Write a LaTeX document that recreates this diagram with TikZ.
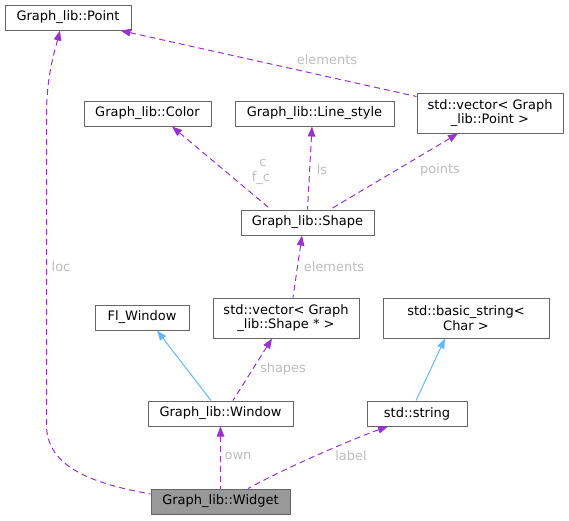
\documentclass[tikz,border=0pt]{standalone}
\usepackage{fontspec}
\setmainfont{DejaVu Sans}
\usetikzlibrary{arrows.meta}
\definecolor{boxline}{HTML}{666666}
\definecolor{purp}{HTML}{9A32CD}
\definecolor{blu}{HTML}{63B8FF}
\definecolor{lbl}{HTML}{BDBDBD}
\definecolor{fillw}{HTML}{999999}
\tikzset{
  cls/.style={draw=boxline, line width=1pt, inner sep=0pt, align=center, font=\fontsize{13}{14.5}\selectfont},
  uses/.style={draw=purp, line width=1pt, dash pattern=on 6pt off 4pt, {Triangle[length=10pt,width=7.5pt,fill=purp]}-},
  inh/.style={draw=blu, line width=1pt, {Triangle[length=10pt,width=7.5pt,fill=blu]}-},
  elab/.style={text=lbl, inner sep=0pt, font=\fontsize{13}{14.5}\selectfont},
}
\begin{document}
\begin{tikzpicture}[x=1pt,y=-1pt]
\useasboundingbox (0,0) rectangle (569,520);
\node[cls, minimum width=126pt, minimum height=25pt] (point) at (68,17.5) {Graph\_lib::Point};
\node[cls, minimum width=127pt, minimum height=25pt] (color) at (147.5,113.5) {Graph\_lib::Color};
\node[cls, minimum width=159pt, minimum height=25pt] (ls) at (314.5,113.5) {Graph\_lib::Line\_style};
\node[cls, minimum width=146pt, minimum height=40pt] (vecP) at (490,113) {std::vector< Graph\\\_lib::Point >};
\node[cls, minimum width=133pt, minimum height=25pt] (shape) at (307.5,222.5) {Graph\_lib::Shape};
\node[cls, minimum width=146pt, minimum height=40pt] (vecS) at (286,318) {std::vector< Graph\\\_lib::Shape * >};
\node[cls, minimum width=94pt, minimum height=25pt] (fl) at (142,317.5) {Fl\_Window};
\node[cls, minimum width=166pt, minimum height=40pt] (bs) at (466,318) {std::basic\_string<\\Char >};
\node[cls, minimum width=145pt, minimum height=25pt] (win) at (220.5,413.5) {Graph\_lib::Window};
\node[cls, minimum width=100pt, minimum height=25pt] (str) at (417,413.5) {std::string};
\node[cls, fill=fillw, minimum width=139pt, minimum height=25pt] (widget) at (220.5,501.5) {Graph\_lib::Widget};

% loc
\draw[uses] ([xshift=-8pt]point.south) .. controls (55,50) and (46.5,75) .. (46.5,115) -- (46.5,425)
  .. controls (46.5,468) and (95,484) .. ([yshift=7.5pt]widget.west);
\node[elab] (lloc) at (61,267) {loc};
% elements (vector point -> point)
\draw[uses] ([xshift=-11pt]point.south east) -- ([yshift=-4pt]vecP.north west);
\node[elab] (lel1) at (327,60) {elements};
% c / f_c
\draw[uses] ([xshift=24.5pt]color.south) -- ([xshift=-36.5pt]shape.north);
\node[elab] (lc) at (263,163) {c};
\node[elab] (lfc) at (261,178) {f\_c};
% ls
\draw[uses] ([xshift=-2.5pt]ls.south) -- (shape.north);
\node[elab] (lls) at (322,170) {ls};
% points
\draw[uses] ([xshift=-32pt]vecP.south) -- ([xshift=22.5pt]shape.north);
\node[elab] (lpts) at (440,170) {points};
% elements (vecS -> shape)
\draw[uses] ([xshift=-5.5pt]shape.south) -- ([xshift=7pt]vecS.north);
\node[elab] (lel2) at (334,267) {elements};
% inheritance
\draw[inh] ([xshift=15pt]fl.south) -- ([xshift=-9.5pt]win.north);
\draw[inh] ([xshift=-21pt]bs.south) -- ([xshift=-1pt]str.north);
% shapes
\draw[uses] ([xshift=-14pt]vecS.south) -- ([xshift=12.5pt]win.north);
\node[elab] (lsh) at (283,369) {shapes};
% own
\draw[uses] (win.south) -- (widget.north);
\node[elab] (lown) at (238,456) {own};
% label
\draw[uses] ([xshift=-29pt]str.south) .. controls (355,438) and (285,468) .. ([xshift=27.5pt]widget.north);
\node[elab] (llab) at (351,456) {label};
\end{tikzpicture}
\end{document}
